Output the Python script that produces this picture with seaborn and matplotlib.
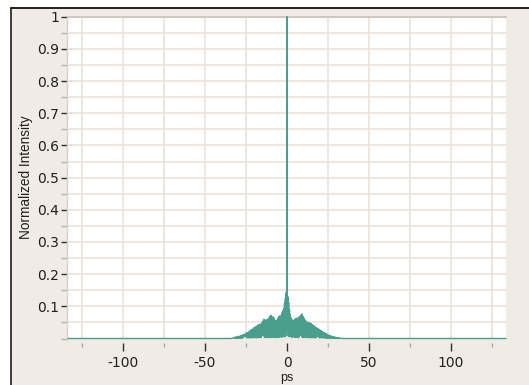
import numpy as np
import pandas as pd
import matplotlib
matplotlib.use("Agg")
import matplotlib.pyplot as plt
from matplotlib.patches import Rectangle
from matplotlib.lines import Line2D
from matplotlib.ticker import MultipleLocator, FixedLocator
import seaborn as sns

# Autocorrelation trace (ps vs normalized intensity).
# Fringe maxima, every 0.5 ps from -32 to 32 ps.
peak_ps = [round(-32 + 0.5 * i, 2) for i in range(129)]
peak_val = [
    0.003, 0.004, 0.005, 0.004, 0.006, 0.007, 0.006, 0.008, 0.009, 0.008,
    0.011, 0.012, 0.013, 0.012, 0.016, 0.017, 0.019, 0.018, 0.023, 0.022,
    0.026, 0.028, 0.027, 0.031, 0.034, 0.032, 0.037, 0.036, 0.041, 0.039,
    0.043, 0.045, 0.042, 0.047, 0.050, 0.055, 0.060, 0.057, 0.054, 0.058,
    0.055, 0.060, 0.064, 0.068, 0.072, 0.070, 0.066, 0.067, 0.063, 0.058,
    0.055, 0.053, 0.058, 0.063, 0.068, 0.070, 0.066, 0.072, 0.080, 0.086,
    0.092, 0.110, 0.125, 0.142,
    1.000,
    0.130, 0.112, 0.090, 0.075, 0.064, 0.058, 0.054, 0.056, 0.058, 0.061,
    0.060, 0.063, 0.062, 0.066, 0.065, 0.069, 0.073, 0.076, 0.070, 0.066,
    0.062, 0.057, 0.054, 0.051, 0.050, 0.048, 0.049, 0.046, 0.047, 0.044,
    0.042, 0.040, 0.039, 0.036, 0.035, 0.033, 0.031, 0.030, 0.028, 0.026,
    0.025, 0.023, 0.021, 0.020, 0.018, 0.017, 0.015, 0.014, 0.012, 0.011,
    0.010, 0.009, 0.008, 0.007, 0.006, 0.006, 0.005, 0.004, 0.004, 0.003,
    0.003, 0.002, 0.002, 0.001,
]
# Fringe minima between the maxima (at -31.75 ... 31.75 ps).
valley_ps = [round(-31.75 + 0.5 * i, 2) for i in range(128)]
valley_val = [
    0.000, 0.001, 0.000, 0.001, 0.001, 0.002, 0.001, 0.002, 0.001, 0.002,
    0.002, 0.006, 0.008, 0.007, 0.003, 0.002, 0.003, 0.002, 0.003, 0.002,
    0.003, 0.002, 0.004, 0.003, 0.002, 0.004, 0.003, 0.002, 0.004, 0.003,
    0.003, 0.004, 0.003, 0.008, 0.010, 0.009, 0.004, 0.003, 0.004, 0.003,
    0.004, 0.003, 0.004, 0.005, 0.003, 0.004, 0.005, 0.004, 0.003, 0.004,
    0.005, 0.004, 0.003, 0.005, 0.004, 0.006, 0.005, 0.004, 0.006, 0.005,
    0.006, 0.005, 0.008, 0.030,
    0.030, 0.008, 0.006, 0.005,
    0.006, 0.005, 0.004, 0.006, 0.005, 0.004, 0.005, 0.004, 0.005, 0.004,
    0.004, 0.009, 0.011, 0.010, 0.004, 0.003, 0.004, 0.003, 0.004, 0.003,
    0.004, 0.003, 0.004, 0.003, 0.002, 0.003, 0.004, 0.003, 0.002, 0.003,
    0.003, 0.002, 0.007, 0.008, 0.006, 0.002, 0.003, 0.002, 0.003, 0.002,
    0.002, 0.003, 0.002, 0.001, 0.002, 0.001, 0.002, 0.001, 0.001, 0.002,
    0.001, 0.001, 0.000, 0.001, 0.001, 0.000, 0.001, 0.000, 0.000, 0.000,
]
# Flat baseline outside the pulse
baseline_ps = [-133.5, -34.0, 34.0, 133.5]
baseline_val = [0.0, 0.0, 0.0, 0.0]

x_ticks = [-100, -50, 0, 50, 100]
x_tick_labels = ["-100", "-50", "0", "50", "100"]
y_ticks = [0.1, 0.2, 0.3, 0.4, 0.5, 0.6, 0.7, 0.8, 0.9, 1.0]
y_tick_labels = ["0.1", "0.2", "0.3", "0.4", "0.5", "0.6", "0.7", "0.8", "0.9", "1"]

assert len(peak_ps) == len(peak_val)
assert len(valley_ps) == len(valley_val)

# Interleave maxima and minima into one continuous trace
pts = sorted(list(zip(peak_ps, peak_val)) + list(zip(valley_ps, valley_val))
             + list(zip(baseline_ps, baseline_val)))
trace = pd.DataFrame(pts, columns=["ps", "intensity"])

sns.set_style("white")
plt.rcParams["font.family"] = ["DejaVu Sans"]
plt.rcParams["axes.unicode_minus"] = False

W, H = 529, 385
panel = "#F0EBE5"
fig = plt.figure(figsize=(W / 100, H / 100), dpi=100, facecolor=panel,
                 edgecolor=panel, linewidth=0)

# White margin above and left of the panel, with a dark edge along both sides
x0, y0 = 10.5 / W, 1 - 7.5 / H
fig.patches.append(Rectangle((-0.1, y0), 1.3, 0.2, transform=fig.transFigure,
                             facecolor="white", edgecolor="none", zorder=-10))
fig.patches.append(Rectangle((-0.1, -0.1), x0 + 0.1, 1.3, transform=fig.transFigure,
                             facecolor="white", edgecolor="none", zorder=-10))
fig.lines.append(Line2D([x0, 1.05], [y0, y0], transform=fig.transFigure,
                        color="#202020", linewidth=1.4, zorder=-9))
fig.lines.append(Line2D([x0, x0], [-0.05, y0], transform=fig.transFigure,
                        color="#202020", linewidth=1.2, zorder=-9))

ax = fig.add_axes([68 / W, 1 - 338.5 / H, (506 - 68) / W, (338.5 - 16.7) / H])
ax.set_facecolor("white")

line_color = "#4A9E8C"
sns.lineplot(data=trace, x="ps", y="intensity", ax=ax, sort=False, estimator=None,
             color=line_color, linewidth=1.0, clip_on=False, zorder=3)

ax.set_xlim(-133.5, 133.5)
ax.set_ylim(0, 1)

ax.xaxis.set_major_locator(FixedLocator(x_ticks))
ax.set_xticklabels(x_tick_labels)
ax.xaxis.set_minor_locator(MultipleLocator(25))
ax.yaxis.set_major_locator(FixedLocator(y_ticks))
ax.set_yticklabels(y_tick_labels)
ax.yaxis.set_minor_locator(MultipleLocator(0.05))

grid_color = "#EBE1DC"
ax.grid(True, which="both", color=grid_color, linewidth=1.2)
ax.set_axisbelow(True)

for side in ["right", "bottom"]:
    ax.spines[side].set_visible(False)
ax.spines["top"].set_color("#C9C1BA")
ax.spines["top"].set_linewidth(1.2)
ax.spines["left"].set_color("#D8D0CA")
ax.spines["left"].set_linewidth(1.0)
ax.spines["bottom"].set_position(("outward", 3))
ax.spines["left"].set_position(("outward", 1))

ax.tick_params(axis="x", which="major", direction="out", length=5.5, width=1.0,
               color="#303030", labelsize=10, pad=4, labelcolor="#202020")
ax.tick_params(axis="x", which="minor", direction="out", length=3, width=1.0,
               color="#A8A8A8")
ax.tick_params(axis="y", which="major", direction="out", length=4, width=1.0,
               color="#303030", labelsize=10, pad=1.5, labelcolor="#202020")
ax.tick_params(axis="y", which="minor", direction="out", length=4, width=1.0,
               color="#B0B0B0")
ax.tick_params(bottom=True, left=True, which="both")

ax.set_xlabel("ps", fontsize=9, color="#202020", family="Liberation Sans")
ax.xaxis.set_label_coords(0.5, -0.105)
ax.set_ylabel("Normalized Intensity", fontsize=9.8, color="#202020",
              family="Liberation Sans")
ax.yaxis.set_label_coords(-0.080, 0.5)

fig.savefig("out.png", dpi=100, facecolor=panel, edgecolor=panel)
